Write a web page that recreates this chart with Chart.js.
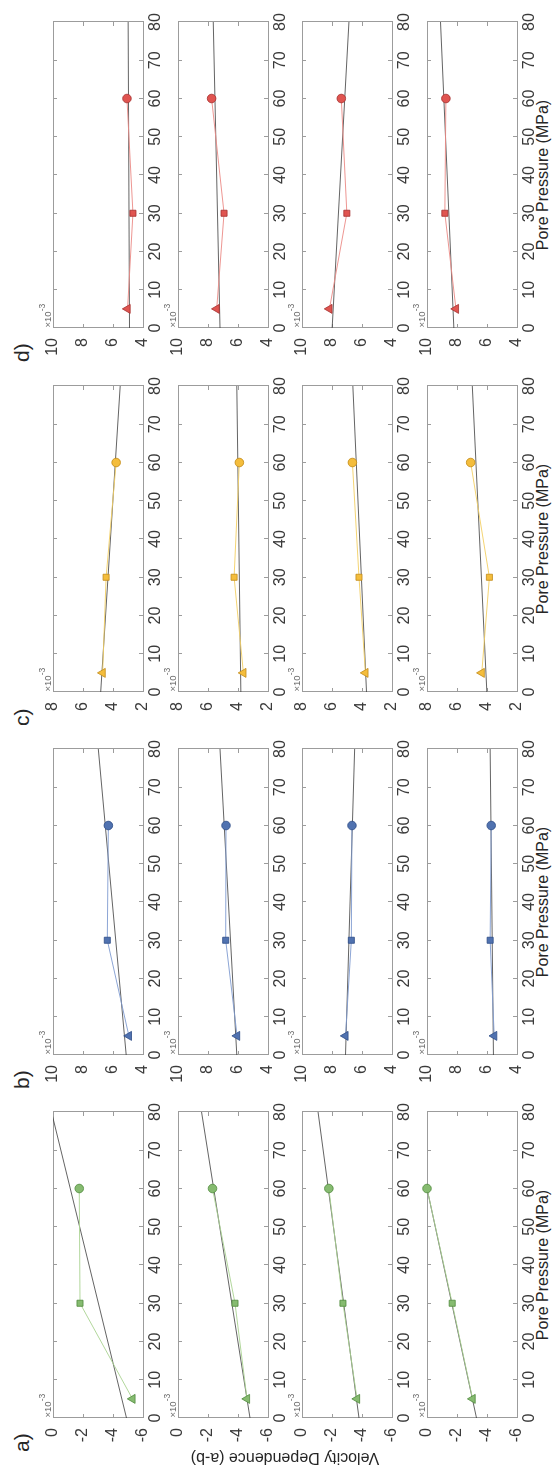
<!DOCTYPE html>
<html>
<head>
<meta charset="utf-8">
<script src="https://cdn.jsdelivr.net/npm/chart.js@4.4.1/dist/chart.umd.min.js"></script>
<style>
  html, body { margin:0; padding:0; background:#fff; width:554px; height:1471px; overflow:hidden; }
  #fig { position:absolute; left:0; top:0; width:1471px; height:554px; background:#fff;
         transform-origin:0 0; transform: translate(0px, 1471px) rotate(-90deg);
         font-family:'Liberation Sans', Arial, Helvetica, sans-serif; color:#262626; }
  #fig canvas { position:absolute; }
  .lbl { position:absolute; white-space:nowrap; line-height:1; }
</style>
</head>
<body>
<div id="fig"></div>
<script>
// ---------- DATA (values in units of 1e-3) ----------
const porePressure = [5, 30, 60];          // MPa, marker positions
const fitRange = [0, 80];                  // MPa, fit line end points
const groupLabels = ['a)', 'b)', 'c)', 'd)'];
const yMins = [-6, 4, 2, 4];
const yMaxs = [0, 10, 8, 10];
const xTickStep = 10;
const yTickStep = 2;
const xAxisTitle = 'Pore Pressure (MPa)';
const yAxisTitle = 'Velocity Dependence (a-b)';

const aValues = [[-5.30, -1.80, -1.75], [-4.60, -3.80, -2.30], [-3.67, -2.73, -1.79], [-3.04, -1.68, 0.00]];
const aFit    = [[-4.90, 0.10], [-4.80, -1.57], [-3.80, -1.07], [-3.30, 1.10]];
const bValues = [[4.94, 6.38, 6.31], [6.06, 6.82, 6.80], [7.10, 6.71, 6.67], [5.52, 5.79, 5.72]];
const bFit    = [[5.12, 6.98], [6.08, 7.20], [7.10, 6.49], [5.57, 5.79]];
const cValues = [[4.69, 4.46, 3.79], [3.64, 4.26, 3.91], [3.77, 4.20, 4.64], [4.35, 3.84, 5.09]];
const cFit    = [[4.82, 3.52], [3.81, 4.08], [3.70, 4.61], [4.01, 4.98]];
const dValues = [[5.03, 4.67, 5.07], [7.42, 6.93, 7.76], [8.17, 7.01, 7.38], [8.07, 8.81, 8.74]];
const dFit    = [[4.90, 4.99], [7.20, 7.65], [7.99, 6.87], [8.21, 9.10]];

const groupValues = [aValues, bValues, cValues, dValues];
const groupFits = [aFit, bFit, cFit, dFit];

// ---------- STYLE / LAYOUT ----------
const palette = [
  { fill:'#86bb70', edge:'#4f8a3c', line:'#a9d391' },
  { fill:'#5072b0', edge:'#2d4c86', line:'#7f9bd0' },
  { fill:'#f4bd3c', edge:'#c18a18', line:'#f3cf63' },
  { fill:'#e05450', edge:'#a3302e', line:'#eb8a86' }
];
const markerStyles = ['triangle', 'rect', 'circle'];
const markerRadii = [5.2, 4.3, 4.3];
const groupLefts = [53, 416, 779, 1143];
const rowTops = [53, 178, 302, 427];
const plotW = 306, plotH = 90;
const padL = 50, padT = 20, padR = 14, padB = 26;
const boxColor = '#9c9c9c';
const tickColor = '#3a3a3a';
const fontFamily = "'Liberation Sans', Arial, Helvetica, sans-serif";

const fig = document.getElementById('fig');

function addLabel(text, css, html) {
  const d = document.createElement('div');
  d.className = 'lbl';
  if (html) d.innerHTML = html; else d.textContent = text;
  Object.assign(d.style, css);
  fig.appendChild(d);
  return d;
}

function zeroPad(s) { s.paddingLeft = 0; s.paddingRight = 0; s.paddingTop = 0; s.paddingBottom = 0; }

function scaleBase(extra) {
  return Object.assign({
    type: 'linear',
    grid: { drawOnChartArea: false, drawTicks: true, tickLength: -4, color: boxColor, lineWidth: 1 },
    border: { display: true, color: boxColor, width: 1 }
  }, extra);
}

groupLabels.forEach((g, gi) => {
  const gx = groupLefts[gi];
  addLabel(g, { left: (gx - 34) + 'px', top: '11px', fontSize: '21px' });
  addLabel(xAxisTitle, { left: gx + 'px', width: plotW + 'px', textAlign: 'center', top: '535px', fontSize: '16px' });

  rowTops.forEach((ry, ri) => {
    const cv = document.createElement('canvas');
    const cw = padL + plotW + padR, ch = padT + plotH + padB;
    cv.width = cw; cv.height = ch;
    cv.style.width = cw + 'px'; cv.style.height = ch + 'px';
    cv.style.left = (gx - padL) + 'px';
    cv.style.top = (ry - padT) + 'px';
    fig.appendChild(cv);

    const vals = groupValues[gi][ri];
    const fit = groupFits[gi][ri];
    const col = palette[gi];
    const tickFont = { family: fontFamily, size: 16 };

    new Chart(cv, {
      type: 'scatter',
      data: {
        datasets: [
          {
            data: porePressure.map((p, i) => ({ x: p, y: vals[i] })),
            showLine: true,
            borderColor: col.line,
            borderWidth: 0.9,
            pointStyle: markerStyles,
            pointRadius: markerRadii,
            pointBackgroundColor: col.fill,
            pointBorderColor: col.edge,
            pointBorderWidth: 0.8,
            clip: false
          },
          {
            data: fitRange.map((p, i) => ({ x: p, y: fit[i] })),
            showLine: true,
            borderColor: '#3c3c3c',
            borderWidth: 0.8,
            pointRadius: 0,
            clip: { left: 0, top: 0, right: 0, bottom: 0 }
          }
        ]
      },
      options: {
        responsive: false,
        animation: false,
        events: [],
        devicePixelRatio: 1,
        layout: { padding: { top: padT, right: padR, left: 0, bottom: 0 } },
        plugins: { legend: { display: false }, tooltip: { enabled: false } },
        scales: {
          x: scaleBase({
            position: 'bottom', min: 0, max: 80,
            ticks: { stepSize: xTickStep, padding: 7, color: tickColor, font: tickFont, maxRotation: 0, autoSkip: false },
            afterFit: s => { s.height = padB; zeroPad(s); }
          }),
          y: scaleBase({
            position: 'left', min: yMins[gi], max: yMaxs[gi],
            ticks: { stepSize: yTickStep, padding: 14, color: tickColor, font: tickFont },
            afterFit: s => { s.width = padL; zeroPad(s); }
          }),
          x2: scaleBase({
            position: 'top', min: 0, max: 80,
            ticks: { stepSize: xTickStep, display: false },
            afterFit: s => { s.height = 0; zeroPad(s); }
          }),
          y2: scaleBase({
            position: 'right', min: yMins[gi], max: yMaxs[gi],
            ticks: { stepSize: yTickStep, display: false },
            afterFit: s => { s.width = 0; zeroPad(s); }
          })
        }
      }
    });

    addLabel('', { left: (gx + 0.5) + 'px', top: (ry - 10) + 'px', fontSize: '9.5px', color: '#6a6a6a' },
      '×10<span style="font-size:8.5px; position:relative; top:-6px;">-3</span>');
  });
});

addLabel(yAxisTitle, { left: (13 - 160) + 'px', top: (285 - 8) + 'px', width: '320px', textAlign: 'center',
  fontSize: '16px', transform: 'rotate(-90deg)', transformOrigin: '50% 50%' });
</script>
</body>
</html>
